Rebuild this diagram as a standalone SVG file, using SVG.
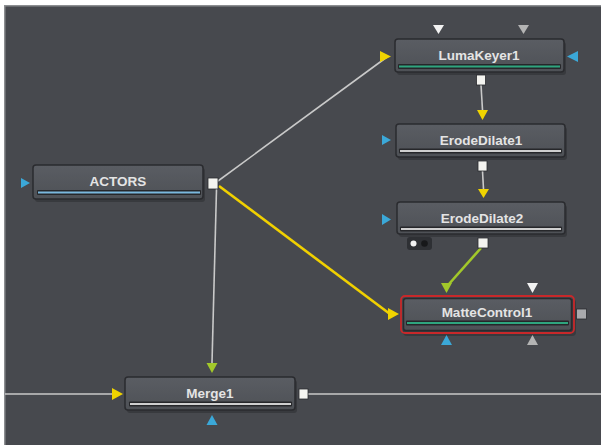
<svg xmlns="http://www.w3.org/2000/svg" width="601" height="445" viewBox="0 0 601 445">
<defs>
<linearGradient id="nodeGrad" x1="0" y1="0" x2="0" y2="1">
<stop offset="0" stop-color="#5a5d63"/>
<stop offset="1" stop-color="#4e5156"/>
</linearGradient>
</defs>
<style>
.box{fill:url(#nodeGrad);stroke:#2a2b2f;stroke-width:1.5}
.shadow{fill:#2f3034;opacity:0.6}
.label{font-family:"Liberation Sans",Arial,sans-serif;font-size:13.5px;font-weight:bold;fill:#e4e4e4;text-anchor:middle}
.track{fill:#26272a}
.wire{fill:none;stroke:#c9c9c9;stroke-width:1.6}
.yel{fill:#f0d400}
.blu{fill:#3ba8d8}
.grn{fill:#a2c82a}
.wht{fill:#f2f2f2}
.gry{fill:#b4b4b4}
.port{fill:#f4f4f0;stroke:#2a2b2f;stroke-width:0.8}
</style>
<rect x="0" y="0" width="601" height="445" fill="#ffffff"/>
<rect x="4" y="5" width="597" height="440" fill="#8c8e91"/>
<rect x="5.5" y="6.5" width="595.5" height="438.5" fill="#47494e"/>

<g id="connectors">
<line class="wire" x1="218" y1="181" x2="387" y2="57"/>
<line x1="219" y1="186" x2="390" y2="314" stroke="#f0d000" stroke-width="2.6"/>
<line class="wire" x1="216.5" y1="189" x2="212" y2="363"/>
<line class="wire" x1="481" y1="85" x2="482.5" y2="110"/>
<line class="wire" x1="482.5" y1="171" x2="483.5" y2="189"/>
<line x1="481" y1="248" x2="449" y2="284" stroke="#a2c82a" stroke-width="2.6"/>
<line class="wire" x1="5" y1="394" x2="113" y2="394"/>
<line class="wire" x1="308" y1="394" x2="601" y2="394"/>
</g>

<g id="LumaKeyer1">
<rect class="shadow" x="397" y="42" width="169" height="33" rx="3"/>
<rect class="box" x="395" y="39" width="169" height="33" rx="3"/>
<text class="label" x="479" y="60">LumaKeyer1</text>
<rect class="track" x="398" y="64" width="163" height="5" rx="1"/>
<rect x="399" y="65.5" width="161" height="2" fill="#2fa57e"/>
<polygon class="yel" points="380,51 391,56.5 380,62"/>
<polygon class="blu" points="578,51 567,56.5 578,62"/>
<polygon class="wht" points="433,25 444,25 438.5,34"/>
<polygon class="gry" points="518,25 529,25 523.5,34"/>
<rect class="port" x="476.5" y="75" width="9" height="10"/>
</g>

<g id="ErodeDilate1">
<rect class="shadow" x="398" y="127" width="169" height="33" rx="3"/>
<rect class="box" x="396" y="124" width="169" height="33" rx="3"/>
<text class="label" x="481" y="145">ErodeDilate1</text>
<rect class="track" x="399" y="148.5" width="163" height="5" rx="1"/>
<rect x="400" y="150" width="161" height="2" fill="#cfcfcf"/>
<polygon class="yel" points="477,110 488,110 482.5,120"/>
<polygon class="blu" points="382,135 391,140 382,145"/>
<rect class="port" x="478" y="161" width="9" height="10"/>
</g>

<g id="ErodeDilate2">
<rect class="shadow" x="399" y="205" width="168" height="32" rx="3"/>
<rect class="box" x="397" y="202" width="168" height="32" rx="3"/>
<text class="label" x="482" y="223">ErodeDilate2</text>
<rect class="track" x="400" y="226.5" width="162" height="5" rx="1"/>
<rect x="401" y="228" width="160" height="2" fill="#cfcfcf"/>
<polygon class="yel" points="478,189 489,189 483.5,198"/>
<polygon class="blu" points="382,214 391,219.5 382,225"/>
<rect x="407" y="237" width="25" height="13" rx="3" fill="#2e3034"/>
<circle cx="413.5" cy="243.5" r="3" fill="#f2f2f2"/>
<circle cx="424.5" cy="243.5" r="3.3" fill="#17181a"/>
<rect class="port" x="478" y="238" width="10" height="10"/>
</g>

<g id="MatteControl1">
<rect class="shadow" x="403" y="299" width="173" height="37" rx="4"/>
<rect x="401" y="296" width="173" height="37" rx="4" fill="none" stroke="#c8282a" stroke-width="1.8"/>
<rect class="box" x="403.5" y="298.5" width="168" height="32" rx="2.5"/>
<text class="label" x="487" y="317">MatteControl1</text>
<rect class="track" x="406" y="320.5" width="163" height="5" rx="1"/>
<rect x="407" y="322" width="161" height="2" fill="#2fa57e"/>
<polygon class="yel" points="388,308 399,314 388,320"/>
<polygon class="grn" points="441,283 452,283 446.5,293"/>
<polygon class="wht" points="527,283 538,283 532.5,293"/>
<polygon class="blu" points="441,345 452,345 446.5,335"/>
<polygon class="gry" points="527,345 538,345 532.5,335"/>
<rect x="576.5" y="309" width="10" height="10" fill="#a9aaad" stroke="#2a2b2f" stroke-width="0.8"/>
</g>

<g id="ACTORS">
<rect class="shadow" x="35" y="168" width="170" height="34" rx="3"/>
<rect class="box" x="33" y="165" width="170" height="34" rx="3"/>
<text class="label" x="118" y="186">ACTORS</text>
<rect class="track" x="37" y="190" width="164" height="5" rx="1"/>
<rect x="38" y="191.5" width="162" height="2" fill="#7ab8dd"/>
<polygon class="blu" points="21,178 30,183 21,188"/>
<rect class="port" x="208" y="178" width="10" height="11"/>
</g>

<g id="Merge1">
<rect class="shadow" x="127" y="380" width="170" height="33" rx="3"/>
<rect class="box" x="125" y="377" width="170" height="33" rx="3"/>
<text class="label" x="210" y="398">Merge1</text>
<rect class="track" x="129" y="401.5" width="163" height="5" rx="1"/>
<rect x="130" y="403" width="161" height="2" fill="#cfcfcf"/>
<polygon class="yel" points="112,388 123,394 112,400"/>
<polygon class="grn" points="206.5,363 217.5,363 212,373"/>
<polygon class="blu" points="206.5,425 217.5,425 212,415"/>
<rect class="port" x="299" y="389" width="9" height="10"/>
</g>
</svg>
